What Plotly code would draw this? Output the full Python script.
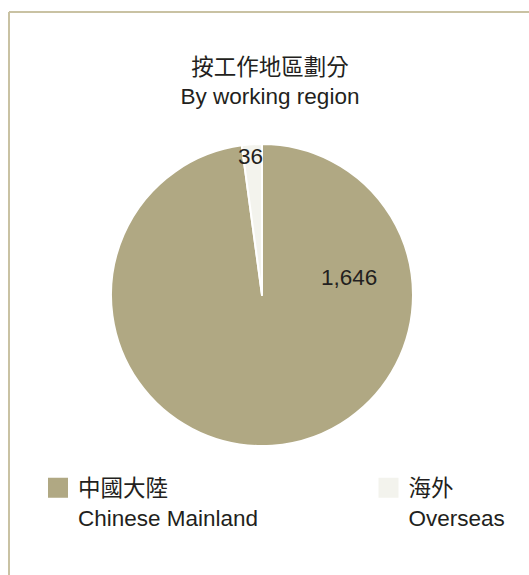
import plotly.graph_objects as go

# Data
regions_zh = ["中國大陸", "海外"]
regions_en = ["Chinese Mainland", "Overseas"]
values = [1646, 36]
colors = ["#b0a883", "#f3f3ed"]
title_zh = "按工作地區劃分"
title_en = "By working region"

FONT = "Liberation Sans, Arial, Noto Sans CJK TC, sans-serif"
TXT = "#231f20"
W, H = 529, 575

fig = go.Figure()

fig.add_trace(go.Pie(
    labels=regions_en,
    values=values,
    sort=False,
    direction="clockwise",
    rotation=0,
    marker=dict(colors=colors, line=dict(color="white", width=2)),
    textinfo="none",
    hoverinfo="label+value",
    showlegend=False,
    domain=dict(x=[(262 - 151) / W, (262 + 151) / W],
                y=[(H - 295 - 151) / H, (H - 295 + 151) / H]),
))

# legend entries (square markers), one legend per entry
legend_names = ["legend", "legend2"]
for zh, en, c, lg in zip(regions_zh, regions_en, colors, legend_names):
    fig.add_trace(go.Scatter(
        x=[None], y=[None], mode="markers",
        name=f"{zh}<br>{en}",
        marker=dict(symbol="square", size=16, color=c, line=dict(color=c, width=4)),
        showlegend=True, legend=lg,
    ))

# value labels
label_pos = [(349 / W, 1 - 278 / H), (250 / W, 1 - 157 / H)]
annotations = []
for v, (px, py) in zip(values, label_pos):
    annotations.append(dict(
        x=px, y=py, xref="paper", yref="paper", text=f"{v:,}",
        showarrow=False, font=dict(size=22.5, color=TXT, family=FONT),
        xanchor="center", yanchor="middle",
    ))

shapes = [
    dict(type="line", xref="paper", yref="paper", x0=9 / W, x1=1, y0=1 - 12 / H, y1=1 - 12 / H,
         line=dict(color="#c9c2a3", width=2)),
    dict(type="line", xref="paper", yref="paper", x0=9 / W, x1=9 / W, y0=1 - 12 / H, y1=0,
         line=dict(color="#c9c2a3", width=2)),
]

legend_common = dict(valign="top", font=dict(size=22.5, color=TXT, family=FONT),
                     bgcolor="rgba(0,0,0,0)", itemclick=False, yanchor="top",
                     y=1 - 466.5 / H, xanchor="left")

fig.update_layout(
    width=W, height=H,
    margin=dict(l=0, r=0, t=0, b=0, autoexpand=False),
    paper_bgcolor="white", plot_bgcolor="white",
    font=dict(family=FONT, size=22.5, color=TXT),
    title=dict(text=f"{title_zh}<br>{title_en}", x=270 / W, xanchor="center",
               y=1 - 75 / H, yanchor="middle",
               font=dict(size=22.5, color=TXT, family=FONT)),
    xaxis=dict(visible=False), yaxis=dict(visible=False),
    legend=dict(x=38 / W, **legend_common),
    legend2=dict(x=368.5 / W, **legend_common),
    annotations=annotations,
    shapes=shapes,
)

fig.write_html("out.html")
